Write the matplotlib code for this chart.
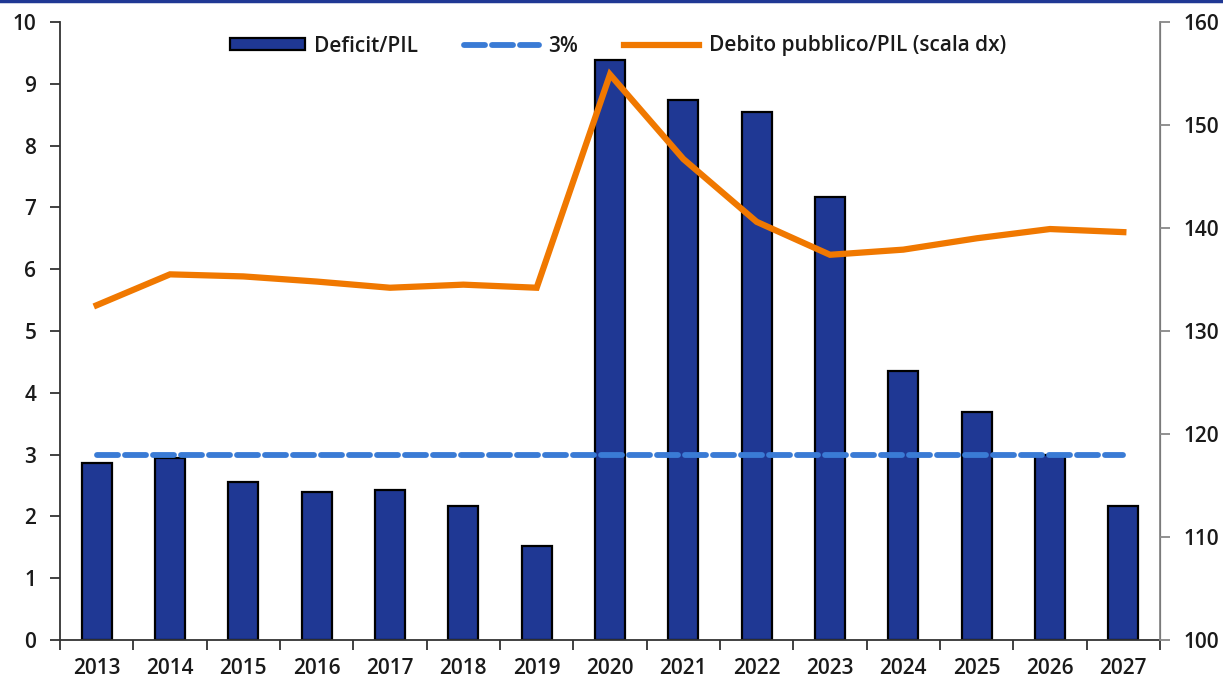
import matplotlib.pyplot as plt
from matplotlib.patches import Rectangle
from matplotlib.lines import Line2D
import numpy as np

plt.rcParams['font.family'] = ['Open Sans', 'DejaVu Sans']
plt.rcParams['font.weight'] = 'semibold'

# data
years = ['2013', '2014', '2015', '2016', '2017', '2018', '2019', '2020',
         '2021', '2022', '2023', '2024', '2025', '2026', '2027']
deficit = [2.86, 2.95, 2.56, 2.39, 2.43, 2.17, 1.52, 9.38,
           8.73, 8.55, 7.17, 4.35, 3.69, 2.99, 2.17]
debito = [132.5, 135.5, 135.3, 134.8, 134.2, 134.5, 134.2, 154.9,
          146.7, 140.6, 137.4, 137.9, 139.0, 139.9, 139.6]
soglia = 3.0

bar_col = '#1f3894'
dash_col = '#3a7bd5'
line_col = '#f07800'
txt_col = '#1a1a1a'
fs = 15

fig = plt.figure(figsize=(12.23, 6.82), dpi=100)
ax = fig.add_axes([60/1223, 42/682, 1100/1223, 618/682])
ax2 = ax.twinx()

x = np.arange(len(years))
ax.bar(x, deficit, width=0.41, color=bar_col, edgecolor='black', linewidth=1.6, zorder=2)
ax.plot(x, [soglia]*len(x), color=dash_col, lw=4.2, linestyle=(0, (3.6, 1.2)),
        dash_capstyle='round', zorder=3)
ax2.plot(x, debito, color=line_col, lw=4.5, solid_joinstyle='miter', zorder=4)

ax.set_xlim(-0.5, len(x) - 0.5)
ax.set_ylim(0, 10)
ax.set_yticks(range(0, 11))
ax2.set_ylim(100, 160)
ax2.set_yticks(range(100, 161, 10))

ax.set_xticks(x)
ax.set_xticklabels(years)
ax.set_xticks(np.arange(-0.5, len(x)), minor=True)
ax.tick_params(axis='x', which='major', length=0, pad=13, labelsize=fs, labelcolor=txt_col)
ax.tick_params(axis='x', which='minor', length=7, width=1.3, color='#333333', direction='out')
ax.tick_params(axis='y', length=7, width=1.3, color='#333333', labelsize=fs,
               labelcolor=txt_col, pad=10)
ax2.tick_params(axis='y', length=7, width=1.3, color='#888888', labelsize=fs,
                labelcolor=txt_col, pad=10)

for a in (ax, ax2):
    a.spines['top'].set_visible(False)
ax.spines['left'].set_color('#333333')
ax.spines['left'].set_linewidth(1.3)
ax.spines['bottom'].set_color('#333333')
ax.spines['bottom'].set_linewidth(1.3)
ax2.spines['right'].set_color('#888888')
ax2.spines['right'].set_linewidth(1.3)
ax2.spines['left'].set_visible(False)
ax2.spines['bottom'].set_visible(False)

handles = [
    Rectangle((0, 0), 1, 1, facecolor=bar_col, edgecolor='black', linewidth=1.6),
    Line2D([], [], color=dash_col, lw=4.2, linestyle=(0, (3.6, 1.2)), dash_capstyle='round'),
    Line2D([], [], color=line_col, lw=4.5),
]
labels = ['Deficit/PIL', '3%', 'Debito pubblico/PIL (scala dx)']
leg = fig.legend(handles, labels, loc='center', bbox_to_anchor=(618/1223, 1 - 46/682),
                 ncol=3, frameon=False, fontsize=fs, handlelength=3.6,
                 handleheight=0.5, handletextpad=0.45, columnspacing=2.2)
for t in leg.get_texts():
    t.set_color(txt_col)

# blue border line at the top of the image
fig.add_artist(Line2D([0, 1], [0.998, 0.998], transform=fig.transFigure,
                      color='#1f3894', lw=2.5))

fig.savefig('out.png', dpi=100)
